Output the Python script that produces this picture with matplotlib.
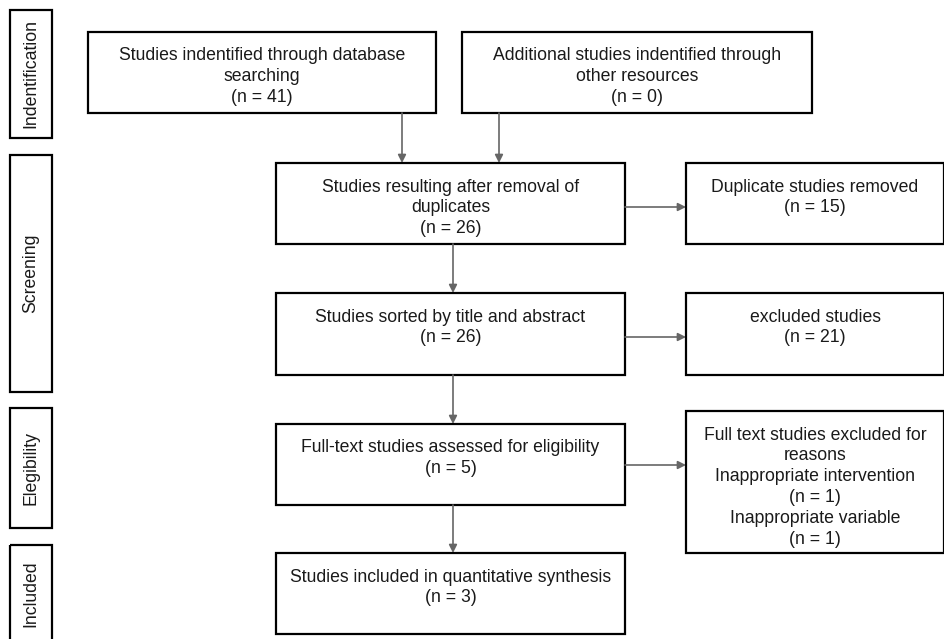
import matplotlib.pyplot as plt
from matplotlib.patches import Rectangle

plt.rcParams['font.family'] = ['Liberation Sans', 'DejaVu Sans']

# stage labels on the left
stages = ['Indentification', 'Screening', 'Elegibility', 'Included']

# box texts
box_texts = [
    'Studies indentified through database\nsearching\n(n = 41)',
    'Additional studies indentified through\nother resources\n(n = 0)',
    'Studies resulting after removal of\nduplicates\n(n = 26)',
    'Duplicate studies removed\n(n = 15)',
    'Studies sorted by title and abstract\n(n = 26)',
    'excluded studies\n(n = 21)',
    'Full-text studies assessed for eligibility\n(n = 5)',
    'Full text studies excluded for\nreasons\nInappropriate intervention\n(n = 1)\nInappropriate variable\n(n = 1)',
    'Studies included in quantitative synthesis\n(n = 3)',
]

# layout in pixels (x0, y0, x1, y1), y from top
stage_boxes = [(10, 10, 52, 138), (10, 155, 52, 392), (10, 408, 52, 528), (10, 545, 52, 645)]
boxes = [
    (88, 32, 436, 113), (462, 32, 812, 113),
    (276, 163, 625, 244), (686, 163, 944, 244),
    (276, 293, 625, 375), (686, 293, 944, 375),
    (276, 424, 625, 505), (686, 411, 944, 553),
    (276, 553, 625, 634),
]
# arrows (x0, y0, x1, y1)
arrows = [
    (402, 113, 402, 163), (499, 113, 499, 163),
    (453, 244, 453, 293), (453, 375, 453, 424), (453, 505, 453, 553),
    (625, 207, 686, 207), (625, 337, 686, 337), (625, 465, 686, 465),
]

FS = 12.7

fig = plt.figure(figsize=(9.45, 6.39), dpi=100)
ax = fig.add_axes([0, 0, 1, 1])
ax.set_xlim(0, 945)
ax.set_ylim(639, 0)
ax.axis('off')

for (x0, y0, x1, y1), label in zip(stage_boxes, stages):
    ax.add_patch(Rectangle((x0, y0), x1 - x0, y1 - y0, fill=False, ec='black', lw=1.6))
    yc = (y0 + y1) / 2 if y1 < 639 else (y0 + 639) / 2 + 2
    ax.text((x0 + x1) / 2, yc, label, rotation=90, ha='center', va='center',
            fontsize=FS, color='#1a1a1a')

for (x0, y0, x1, y1), txt in zip(boxes, box_texts):
    ax.add_patch(Rectangle((x0, y0), x1 - x0, y1 - y0, fill=False, ec='black', lw=1.6))
    ax.text((x0 + x1) / 2, y0 + 15.5, txt, ha='center', va='top', fontsize=FS,
            color='#1a1a1a', linespacing=1.3)

for x0, y0, x1, y1 in arrows:
    ax.annotate('', xy=(x1, y1), xytext=(x0, y0),
                arrowprops=dict(arrowstyle='-|>', color='#666666', lw=1.2,
                                mutation_scale=12, shrinkA=0, shrinkB=0))

fig.savefig('out.png', dpi=100)
